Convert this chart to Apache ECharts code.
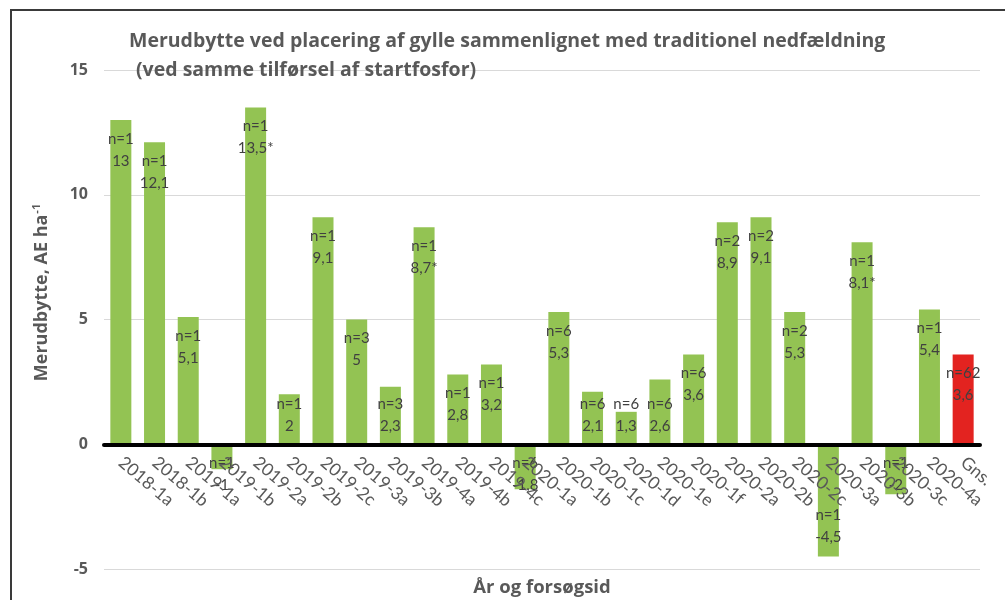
<!DOCTYPE html>
<html>
<head>
<meta charset="utf-8">
<script src="https://cdn.jsdelivr.net/npm/echarts@6/dist/echarts.min.js"></script>
<style>
  html, body { margin: 0; padding: 0; background: #fff; }
  #chart { width: 1005px; height: 600px; }
</style>
</head>
<body>
<div id="chart"></div>
<script>
// forsøg (x-akse)
const categories = ['2018-1a', '2018-1b', '2019-1a', '2019-1b', '2019-2a', '2019-2b', '2019-2c',
  '2019-3a', '2019-3b', '2019-4a', '2019-4b', '2019-4c', '2020-1a', '2020-1b', '2020-1c',
  '2020-1d', '2020-1e', '2020-1f', '2020-2a', '2020-2b', '2020-2c', '2020-3a', '2020-3b',
  '2020-3c', '2020-4a', 'Gns.'];
// merudbytte, AE ha-1
const values = [13, 12.1, 5.1, -1, 13.5, 2, 9.1, 5, 2.3, 8.7, 2.8, 3.2, -1.8, 5.3, 2.1,
  1.3, 2.6, 3.6, 8.9, 9.1, 5.3, -4.5, 8.1, -2, 5.4, 3.6];
// antal forsøg
const counts = [1, 1, 1, 1, 1, 1, 1, 3, 3, 1, 1, 1, 6, 6, 6, 6, 6, 6, 2, 2, 2, 1, 1, 1, 1, 62];
// signifikante (*)
const starred = ['2019-2a', '2019-4a', '2020-3b'];
const averageCat = 'Gns.';
const yTicks = { min: -5, max: 15, step: 5 };

const FONT = 'Lato';
const TFONT = 'Open Sans';
const GREY = '#595959';

function labelPos(v) {
  // label sidder inde i enden af søjlen, men skubbes ind hvis søjlen er kort (som Excel)
  if (v >= 0) return v >= 2.7 ? { position: 'insideTop', distance: 8 } : { position: 'insideBottom', distance: 7 };
  return v > -2.4 ? { position: 'insideTop', distance: 8 } : { position: 'insideBottom', distance: 8 };
}

const barData = values.map((v, i) => ({
  value: v,
  itemStyle: { color: categories[i] === averageCat ? '#E32320' : '#93C353' },
  label: labelPos(v)
}));

// x-aksen skal sidde ved 0: flyt den op fra gitterets bund
const gridTop = 70, gridBottom = 31;
const zeroOffset = (600 - gridTop - gridBottom) * (0 - yTicks.min) / (yTicks.max - yTicks.min);

const chart = echarts.init(document.getElementById('chart'));
chart.setOption({
  backgroundColor: '#fff',
  animation: false,
  title: [
    {
      text: 'Merudbytte ved placering af gylle sammenlignet med traditionel nedfældning',
      left: 124, top: 26,
      textStyle: { fontFamily: TFONT, fontSize: 19.5, fontWeight: 'bold', color: GREY }
    },
    {
      text: '(ved samme tilførsel af startfosfor)',
      left: 131, top: 55,
      textStyle: { fontFamily: TFONT, fontSize: 19.5, fontWeight: 'bold', color: GREY }
    }
  ],
  graphic: [{
    type: 'rect', silent: true, z: 100,
    shape: { x: 11, y: 10, width: 1100, height: 700 },
    style: { fill: 'none', stroke: '#3a3a3a', lineWidth: 2 }
  }],
  grid: { left: 104, right: 25, top: gridTop, bottom: gridBottom, outerBoundsMode: 'none', containLabel: false },
  xAxis: {
    type: 'category',
    data: categories,
    z: 3,
    offset: -zeroOffset,
    name: 'År og forsøgsid',
    nameLocation: 'middle',
    nameGap: 134,
    nameMoveOverlap: false,
    nameTextStyle: { fontFamily: TFONT, fontSize: 18.5, fontWeight: 'bold', color: GREY },
    axisLine: { onZero: false, lineStyle: { color: '#000', width: 4 } },
    axisTick: { show: false },
    axisLabel: {
      interval: 0, rotate: -40, margin: 16,
      fontFamily: FONT, fontSize: 17.5, color: GREY
    }
  },
  yAxis: {
    type: 'value',
    min: yTicks.min, max: yTicks.max, interval: yTicks.step,
    name: 'Merudbytte, AE ha{sup|-1}',
    nameLocation: 'middle',
    nameGap: 52,
    nameMoveOverlap: false,
    nameTextStyle: {
      fontFamily: TFONT, fontSize: 18, fontWeight: 'bold', color: GREY,
      padding: [0, 0, 0, 54],
      rich: { sup: { fontFamily: TFONT, fontSize: 11, fontWeight: 'bold', color: GREY, verticalAlign: 'top', padding: [0, 0, 10, 1] } }
    },
    axisLine: { show: false },
    axisTick: { show: false },
    splitLine: { lineStyle: { color: '#d9d9d9', width: 1 } },
    axisLabel: { margin: 16, fontFamily: TFONT, fontSize: 16, fontWeight: 'bold', color: GREY }
  },
  series: [{
    type: 'bar',
    data: barData,
    barWidth: 21,
    label: {
      show: true,
      fontFamily: FONT, fontSize: 15, color: '#404040', lineHeight: 22,
      formatter: p => {
        const txt = String(p.value).replace('.', ',') + (starred.includes(p.name) ? '*' : '');
        return 'n=' + counts[p.dataIndex] + '\n' + txt;
      }
    }
  }]
});
</script>
</body>
</html>
